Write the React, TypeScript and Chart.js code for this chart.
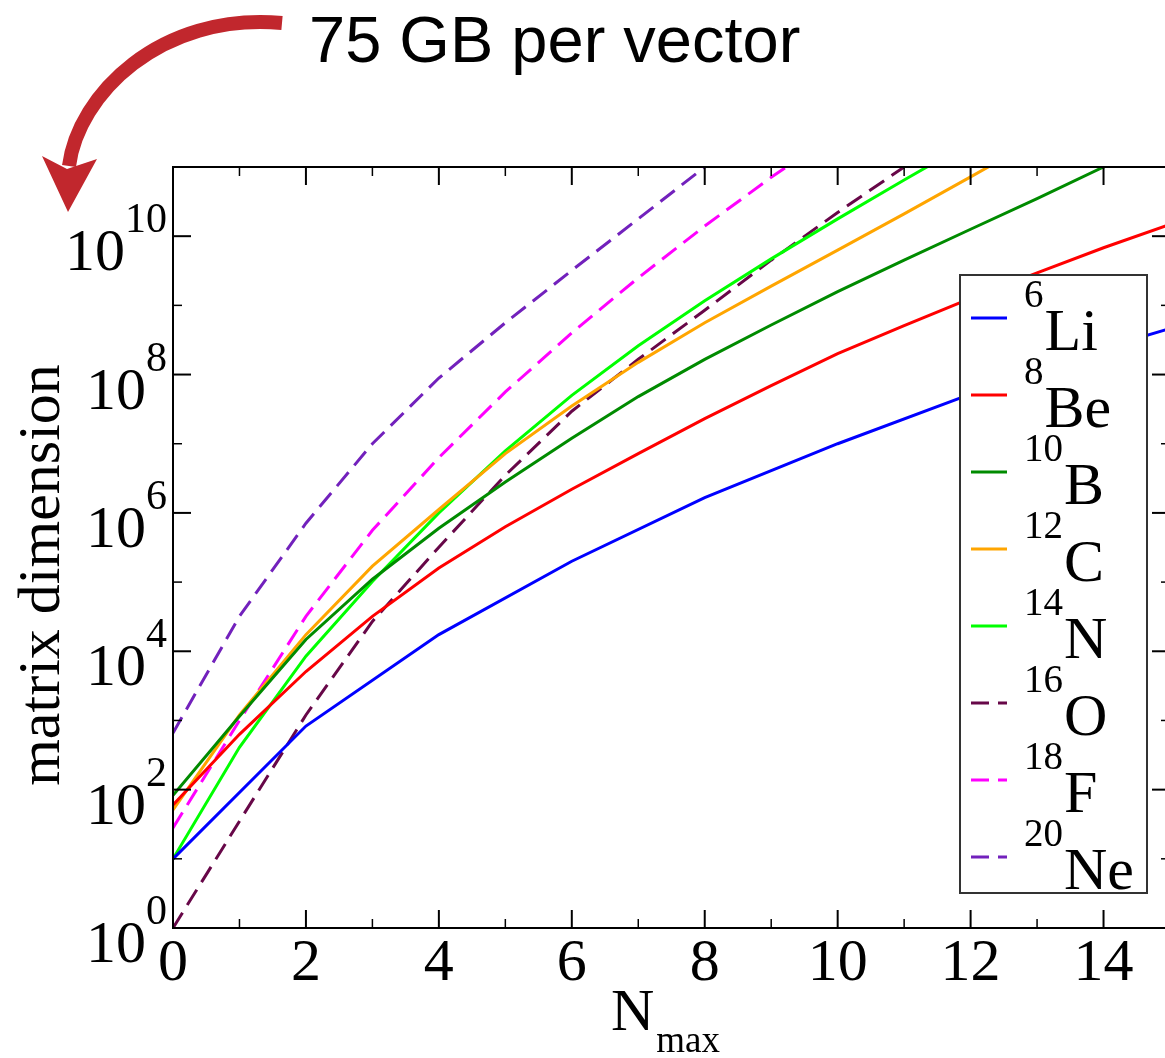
import { useEffect, useRef } from "react";
import { Chart, registerables } from "chart.js";

Chart.register(...registerables);

// ---- data (matrix dimension vs Nmax) ----
const nmaxEven = [0, 2, 4, 6, 8, 10, 12, 14, 16];
const nmaxTo8 = [0, 1, 2, 3, 4, 5, 6, 7, 8];
const nmaxTo10 = [0, 1, 2, 3, 4, 5, 6, 7, 8, 9, 10];
const nmaxTo12 = [0, 1, 2, 3, 4, 5, 6, 7, 8, 9, 10, 11, 12];
const nmaxTo13 = [0, 1, 2, 3, 4, 5, 6, 7, 8, 9, 10, 11, 12, 13];
const nmaxTo15 = [0, 1, 2, 3, 4, 5, 6, 7, 8, 9, 10, 11, 12, 13, 14, 15];

const li6 = [10, 830, 17400, 2.0e5, 1.66e6, 1.0e7, 5.2e7, 2.4e8, 8.9e8];
const be8 = [60, 630, 5100, 3.2e4, 1.6e5, 6.3e5, 2.2e6, 7.2e6, 2.3e7, 6.9e7, 2.0e8, 5.1e8, 1.26e9, 2.95e9, 6.8e9, 1.48e10];
const b10 = [83, 1150, 1.48e4, 1.1e5, 6.0e5, 2.8e6, 1.2e7, 4.8e7, 1.66e8, 5.2e8, 1.58e9, 4.5e9, 1.26e10, 3.5e10, 1.0e11, 2.6e11];
const c12 = [51, 1200, 1.74e4, 1.7e5, 1.12e6, 7.2e6, 3.5e7, 1.5e8, 5.6e8, 1.9e9, 6.3e9, 2.1e10, 7.2e10, 2.5e11];
const n14 = [10, 410, 8500, 1.02e5, 1.0e6, 7.9e6, 5.0e7, 2.6e8, 1.17e9, 4.7e9, 1.78e10, 6.5e10, 2.3e11];
const o16 = [1, 35, 1200, 2.7e4, 3.2e5, 3.5e6, 2.95e7, 1.66e8, 8.5e8, 4.5e9, 2.2e10, 1.0e11, 4.0e11];
const f18 = [28, 1000, 3.2e4, 5.6e5, 6.3e6, 5.6e7, 4.0e8, 2.5e9, 1.4e10, 7.1e10, 3.2e11];
const ne20 = [660, 3.2e4, 7.1e5, 1.0e7, 8.9e7, 5.6e8, 3.2e9, 1.78e10, 1.0e11];

const massNumbers = ["6", "8", "10", "12", "14", "16", "18", "20"];
const elements = ["Li", "Be", "B", "C", "N", "O", "F", "Ne"];
const seriesX = [nmaxEven, nmaxTo15, nmaxTo15, nmaxTo13, nmaxTo12, nmaxTo12, nmaxTo10, nmaxTo8];
const seriesY = [li6, be8, b10, c12, n14, o16, f18, ne20];
const seriesColors = [
  "rgb(0,0,255)",
  "rgb(255,0,0)",
  "rgb(0,139,0)",
  "rgb(255,165,0)",
  "rgb(0,255,0)",
  "rgb(103,7,72)",
  "rgb(255,0,255)",
  "rgb(114,33,188)",
];
const seriesDashed = [false, false, false, false, false, true, true, true];

// ---- axes ----
const xMajorTicks = [0, 2, 4, 6, 8, 10, 12, 14];
const xMinorTicks = [1, 3, 5, 7, 9, 11, 13];
const yMajorTicks = [1, 1e2, 1e4, 1e6, 1e8, 1e10];
const yMajorExponents = ["0", "2", "4", "6", "8", "10"];
const yMinorTicks = [1e1, 1e3, 1e5, 1e7, 1e9];

const titleText = "75 GB per vector";
const yTitle = "matrix dimension";
const xTitleMain = "N";
const xTitleSub = "max";

const SERIF = '"Liberation Serif", "Times New Roman", serif';
const SANS = '"Liberation Sans", Arial, sans-serif';
const DASH = [18, 9];

const decorPlugin = {
  id: "decor",
  beforeDraw(chart: any) {
    const ctx = chart.ctx;
    ctx.save();
    ctx.fillStyle = "#ffffff";
    ctx.fillRect(0, 0, chart.width, chart.height);
    ctx.restore();
  },
  afterDraw(chart: any) {
    const ctx = chart.ctx as CanvasRenderingContext2D;
    const xs = chart.scales.x;
    const ys = chart.scales.y;
    const { left, right, top, bottom } = chart.chartArea;
    ctx.save();

    // frame
    ctx.strokeStyle = "#000";
    ctx.lineWidth = 2;
    ctx.strokeRect(left, top, right - left, bottom - top);

    // ticks
    const tick = (x1: number, y1: number, x2: number, y2: number, w: number) => {
      ctx.lineWidth = w;
      ctx.beginPath();
      ctx.moveTo(x1, y1);
      ctx.lineTo(x2, y2);
      ctx.stroke();
    };
    const MAJ = 18;
    const MIN = 9;
    xMajorTicks.forEach((v) => {
      const px = xs.getPixelForValue(v);
      tick(px, bottom, px, bottom - MAJ, 2);
      tick(px, top, px, top + MAJ, 2);
    });
    xMinorTicks.forEach((v) => {
      const px = xs.getPixelForValue(v);
      tick(px, bottom, px, bottom - MIN, 1.5);
      tick(px, top, px, top + MIN, 1.5);
    });
    yMajorTicks.forEach((v) => {
      const py = ys.getPixelForValue(v);
      tick(left, py, left + MAJ, py, 2);
      tick(right, py, right - MAJ, py, 2);
    });
    yMinorTicks.forEach((v) => {
      const py = ys.getPixelForValue(v);
      tick(left, py, left + MIN, py, 1.5);
      tick(right, py, right - MIN, py, 1.5);
    });

    ctx.fillStyle = "#000";
    ctx.textBaseline = "alphabetic";

    // x tick labels
    ctx.font = `60px ${SERIF}`;
    ctx.textAlign = "center";
    xMajorTicks.forEach((v) => {
      ctx.fillText(String(v), xs.getPixelForValue(v), bottom + 52);
    });

    // y tick labels 10^n
    ctx.textAlign = "left";
    const R = left - 6;
    yMajorTicks.forEach((v, i) => {
      const py = ys.getPixelForValue(v);
      const ex = yMajorExponents[i];
      ctx.font = `42px ${SERIF}`;
      const we = ctx.measureText(ex).width;
      ctx.fillText(ex, R - we, py - 4);
      ctx.font = `60px ${SERIF}`;
      const wb = ctx.measureText("10").width;
      ctx.fillText("10", R - we - wb, py + 34);
    });

    // y title
    ctx.save();
    ctx.translate(59, 575);
    ctx.rotate(-Math.PI / 2);
    ctx.font = `60px ${SERIF}`;
    ctx.textAlign = "center";
    ctx.fillText(yTitle, 0, 0);
    ctx.restore();

    // x title N_max
    ctx.textAlign = "left";
    ctx.font = `60px ${SERIF}`;
    const nx = 611;
    ctx.fillText(xTitleMain, nx, 1030);
    const nw = ctx.measureText(xTitleMain).width;
    ctx.font = `37px ${SERIF}`;
    ctx.fillText(xTitleSub, nx + nw + 2, 1052);

    // legend
    const lx = 960, ly = 275, lw = 187, lh = 618;
    ctx.fillStyle = "#fff";
    ctx.fillRect(lx, ly, lw, lh);
    ctx.strokeStyle = "#333";
    ctx.lineWidth = 2;
    ctx.strokeRect(lx, ly, lw, lh);
    chart.data.datasets.forEach((ds: any, i: number) => {
      const rowY = 318 + i * 77;
      ctx.strokeStyle = ds.borderColor;
      ctx.lineWidth = 3;
      ctx.setLineDash(ds.borderDash || []);
      ctx.beginPath();
      ctx.moveTo(971, rowY);
      ctx.lineTo(1007, rowY);
      ctx.stroke();
      ctx.setLineDash([]);
      ctx.fillStyle = "#000";
      ctx.font = `39px ${SERIF}`;
      const sup = massNumbers[i];
      ctx.fillText(sup, 1024, rowY - 11);
      const sw = ctx.measureText(sup).width;
      ctx.font = `60px ${SERIF}`;
      ctx.fillText(elements[i], 1024 + sw + 1, rowY + 32);
    });

    // title text
    ctx.fillStyle = "#000";
    ctx.font = `65px ${SANS}`;
    ctx.fillText(titleText, 309, 62);

    // curved arrow
    ctx.strokeStyle = "rgb(193,39,45)";
    ctx.fillStyle = "rgb(193,39,45)";
    ctx.lineWidth = 14;
    ctx.lineCap = "butt";
    ctx.beginPath();
    ctx.moveTo(282, 23);
    ctx.bezierCurveTo(160, 12, 78, 95, 69, 166);
    ctx.stroke();
    ctx.beginPath();
    ctx.moveTo(68, 212);
    ctx.lineTo(42, 156);
    ctx.lineTo(67, 169);
    ctx.lineTo(97, 159);
    ctx.closePath();
    ctx.fill();

    ctx.restore();
  },
};

export default function App() {
  const canvasRef = useRef<HTMLCanvasElement | null>(null);

  useEffect(() => {
    if (!canvasRef.current) return;
    const datasets = seriesY.map((ys, i) => ({
      label: massNumbers[i] + elements[i],
      data: ys.map((y, j) => ({ x: seriesX[i][j], y })),
      borderColor: seriesColors[i],
      backgroundColor: seriesColors[i],
      borderWidth: 3,
      borderDash: seriesDashed[i] ? DASH : [],
      pointRadius: 0,
      tension: 0,
      fill: false,
    }));
    const chart = new Chart(canvasRef.current, {
      type: "line",
      data: { datasets },
      options: {
        responsive: false,
        animation: false,
        devicePixelRatio: 1,
        layout: { padding: { left: 173, top: 167, right: 0, bottom: 130 } },
        plugins: { legend: { display: false }, tooltip: { enabled: false } },
        scales: {
          x: { type: "linear", min: 0, max: 15, display: false },
          y: { type: "logarithmic", min: 1, max: 1e11, display: false },
        },
      },
      plugins: [decorPlugin],
    } as any);
    return () => chart.destroy();
  }, []);

  return (
    <div
      style={{
        position: "absolute",
        left: 0,
        top: 0,
        width: 1165,
        height: 1058,
        overflow: "hidden",
        background: "#fff",
      }}
    >
      <canvas ref={canvasRef} width={1170} height={1058} style={{ display: "block" }} />
    </div>
  );
}
